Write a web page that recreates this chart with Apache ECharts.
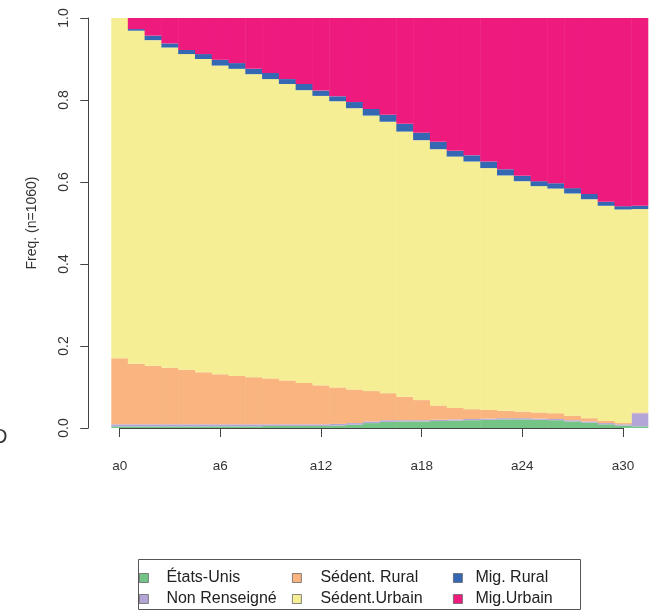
<!DOCTYPE html>
<html>
<head>
<meta charset="utf-8">
<script src="https://cdn.jsdelivr.net/npm/echarts@6/dist/echarts.min.js"></script>
<style>
html,body{margin:0;padding:0;background:#fff;}
#chart{width:655px;height:615px;}
</style>
</head>
<body>
<div id="chart"></div>
<script>
var categories = ['a0','a1','a2','a3','a4','a5','a6','a7','a8','a9','a10','a11','a12','a13','a14','a15',
  'a16','a17','a18','a19','a20','a21','a22','a23','a24','a25','a26','a27','a28','a29','a30','a31'];
var xTickIdx = [0, 6, 12, 18, 24, 30];
var yTickLabels = ['0.0','0.2','0.4','0.6','0.8','1.0'];
var stateNames = ['États-Unis','Non Renseigné','Sédent. Rural','Sédent.Urbain','Mig. Rural','Mig.Urbain'];
var stateColors = ['#74C486','#B3A6D6','#F9B47F','#F6EE94','#3468B2','#EE1A7E'];

var etatsUnis = [.004,.004,.004,.004,.004,.004,.004,.004,.004,.005,.005,.005,.005,.006,.008,.012,
  .015,.016,.016,.017,.018,.019,.020,.021,.021,.020,.019,.016,.013,.009,.006,.004];
var nonRenseigne = [.005,.005,.005,.005,.005,.005,.005,.005,.005,.004,.004,.004,.004,.004,.004,.004,
  .004,.003,.003,.003,.003,.003,.003,.003,.003,.003,.003,.003,.003,.003,.003,.032];
var sedentRural = [.161,.148,.143,.138,.133,.127,.122,.118,.115,.112,.107,.101,.095,.089,.082,.074,
  .066,.057,.049,.035,.028,.024,.021,.018,.016,.015,.014,.011,.008,.005,.003,.002];
var sedentUrbain = [.830,.812,.794,.781,.770,.764,.753,.749,.739,.730,.723,.714,.706,.698,.686,.672,
  .662,.647,.634,.625,.613,.604,.590,.574,.562,.552,.548,.542,.534,.525,.521,.496];
var migRural = [0,.004,.011,.010,.010,.012,.014,.014,.013,.015,.012,.015,.013,.012,.015,.016,
  .017,.019,.018,.018,.014,.015,.016,.015,.013,.012,.013,.013,.013,.010,.008,.008];
var migUrbain = [0,.027,.043,.062,.078,.088,.102,.110,.124,.134,.149,.161,.177,.191,.205,.222,
  .236,.258,.280,.302,.324,.335,.350,.369,.385,.398,.403,.415,.429,.448,.459,.458];

var seriesData = [etatsUnis, nonRenseigne, sedentRural, sedentUrbain, migRural, migUrbain];

var FONT = 'Liberation Sans, Arial, Helvetica, sans-serif';
var TXT = '#333';
var chart = echarts.init(document.getElementById('chart'), null, {renderer:'canvas'});

var series = stateNames.map(function(n, i){
  return {
    name: n, type: 'bar', stack: 'total', xAxisIndex: 0, yAxisIndex: 0,
    data: seriesData[i], barWidth: '103%',
    itemStyle: {color: stateColors[i], borderWidth: 0},
    emphasis: {disabled: true}, animation: false
  };
});

function legendCol(names, left, pad){
  return {
    orient: 'vertical', left: left, top: 569, itemWidth: 9, itemHeight: 9, itemGap: 3,
    padding: 0, icon: 'rect', selectedMode: false,
    data: names.map(function(n){
      var i = stateNames.indexOf(n);
      return {name: n, itemStyle: {color: stateColors[i], borderColor: '#666', borderWidth: 0.8}};
    }),
    textStyle: {fontFamily: FONT, fontSize: 16, color: '#222', padding: [0,0,0,pad], lineHeight: 18}
  };
}

chart.setOption({
  animation: false,
  backgroundColor: '#fff',
  grid: [
    {left: 111.3, right: 6.7, top: 18, bottom: 187},
    {left: 119.7, right: 32, top: 18, bottom: 187}
  ],
  xAxis: [
    {type: 'category', gridIndex: 0, data: categories, show: false, boundaryGap: true},
    {type: 'value', gridIndex: 1, min: 0, max: 30, interval: 6, offset: 9,
     axisLine: {show: true, lineStyle: {color: '#444', width: 1}},
     axisTick: {show: true, length: 9, inside: false, lineStyle: {color: '#444'}},
     axisLabel: {margin: 22, fontFamily: FONT, fontSize: 13.5, color: TXT,
       formatter: function(v){ return xTickIdx.indexOf(v) >= 0 ? categories[v] : ''; }},
     splitLine: {show: false}}
  ],
  yAxis: [
    {type: 'value', gridIndex: 0, min: 0, max: 1, interval: 0.2, offset: 23,
     axisLine: {show: true, lineStyle: {color: '#444', width: 1}},
     axisTick: {show: true, length: 8, inside: false, lineStyle: {color: '#444'}},
     axisLabel: {rotate: 90, margin: 17, fontFamily: FONT, fontSize: 14, color: TXT,
       formatter: function(v){ return yTickLabels[Math.round(v*5)]; }},
     splitLine: {show: false},
     name: 'Freq. (n=1060)', nameLocation: 'middle', nameGap: 49, nameRotate: 90,
     nameTextStyle: {fontFamily: FONT, fontSize: 14, color: TXT}},
    {type: 'value', gridIndex: 1, min: 0, max: 1, show: false}
  ],
  legend: [
    legendCol(['États-Unis','Non Renseigné'], 139, 13),
    legendCol(['Sédent. Rural','Sédent.Urbain'], 292, 14),
    legendCol(['Mig. Rural','Mig.Urbain'], 453, 8)
  ],
  graphic: [
    {type: 'rect', left: 136, top: 557, shape: {width: 442, height: 50},
     style: {fill: 'none', stroke: '#555', lineWidth: 1}, silent: true, z: -1},
    {type: 'text', left: -7, top: 427, style: {text: 'D', font: '20px ' + FONT, fill: '#333'}}
  ],
  series: series
});
</script>
</body>
</html>
